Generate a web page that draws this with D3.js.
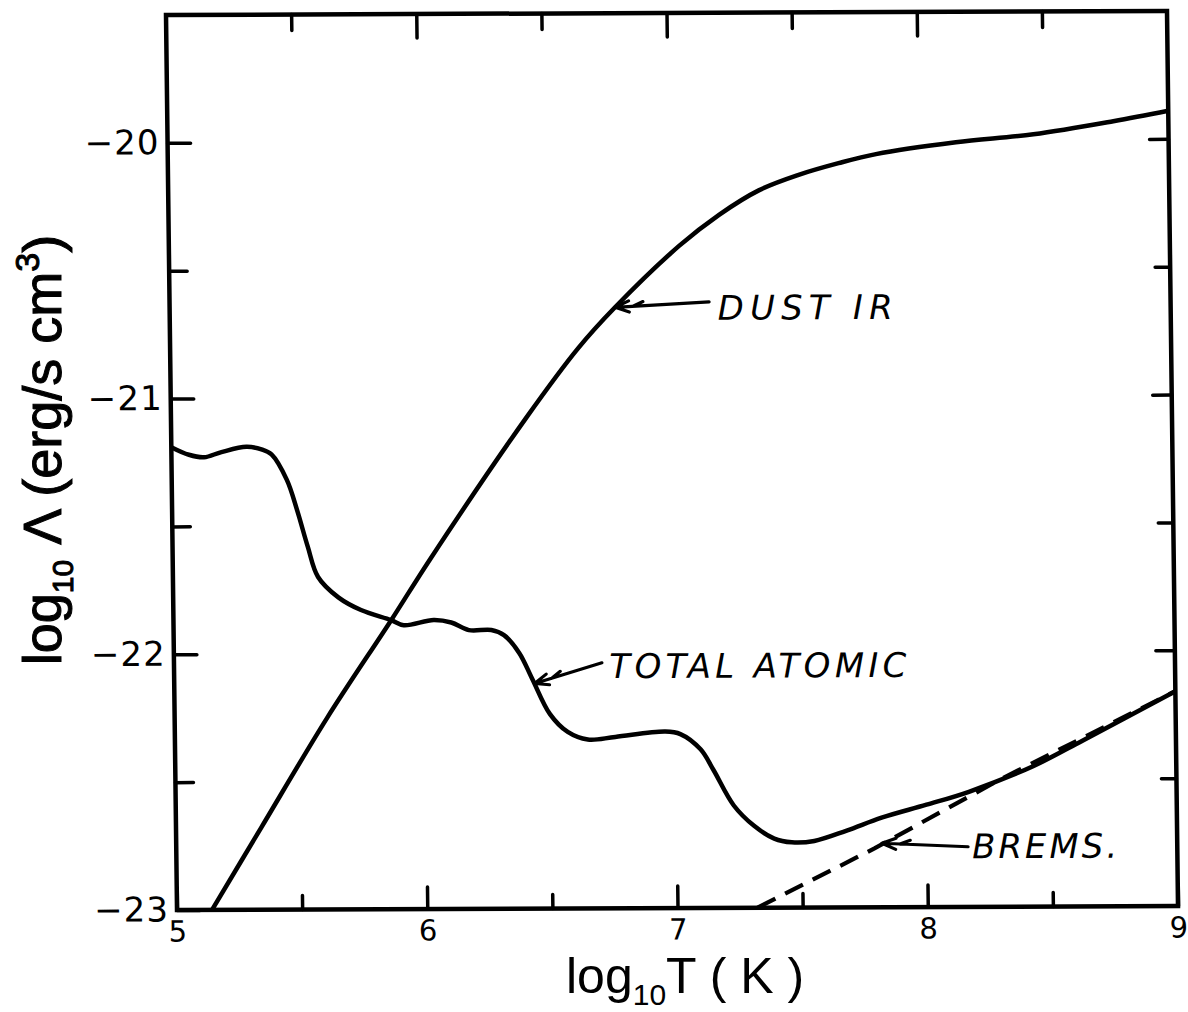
<!DOCTYPE html>
<html><head><meta charset="utf-8">
<script src="https://cdn.jsdelivr.net/npm/d3@7"></script>
<style>html,body{margin:0;padding:0;background:#fff}</style>
</head><body>
<svg id="chart" width="1188" height="1012"></svg>
<script>
// Cooling rates: log10 Λ (erg/s cm^3) against log10 T (K)
const atomicLogT = [5.0,5.07,5.13,5.2,5.3,5.36,5.40,5.46,5.50,5.54,5.58,5.66,5.75,5.87,5.92,6.04,6.11,6.18,6.27,6.32,6.38,6.43,6.50,6.57,6.65,6.76,6.96,7.02,7.10,7.15,7.23,7.31,7.39,7.46,7.55,7.68,7.82,8.0,8.17,8.43,8.63,9.0];
const atomicLogL = [-21.19,-21.22,-21.23,-21.21,-21.19,-21.20,-21.22,-21.32,-21.44,-21.58,-21.70,-21.78,-21.83,-21.87,-21.89,-21.87,-21.88,-21.91,-21.91,-21.93,-22.0,-22.1,-22.24,-22.31,-22.34,-22.33,-22.31,-22.32,-22.38,-22.46,-22.60,-22.68,-22.73,-22.745,-22.74,-22.70,-22.65,-22.60,-22.55,-22.45,-22.35,-22.16];

const dustLogT = [5.14,5.34,5.61,5.87,6.03,6.42,6.63,6.78,7.04,7.20,7.36,7.52,7.68,7.83,8.15,8.46,8.78,9.0];
const dustLogL = [-23.0,-22.68,-22.25,-21.87,-21.63,-21.08,-20.81,-20.65,-20.41,-20.29,-20.195,-20.135,-20.09,-20.055,-20.01,-19.98,-19.93,-19.89];

const bremsLogT = [7.32,7.79,8.30,9.0];
const bremsLogL = [-23.0,-22.77,-22.5,-22.16];

const xMajorTicks = [5,6,7,8,9];
const xMinorTicks = [5.5,6.5,7.5,8.5];
const yMajorTicks = [-20,-21,-22,-23];
const yMinorTicks = [-20.5,-21.5,-22.5];

// curve labels: text, arrow tip (on curve), arrow tail, text start
const labelText  = ["DUST IR","TOTAL ATOMIC","BREMS."];
const labelTip   = [[6.78,-20.65],[6.44,-22.12],[7.82,-22.75]];
const labelTail  = [[7.156,-20.63],[6.71,-22.04],[8.164,-22.765]];
const labelStart = [[7.19,-20.70],[6.74,-22.10],[8.18,-22.81]];
const labelWidth = [175,297,145];

const W = 1001, H = 895;
const svg = d3.select("#chart");
const g = svg.append("g")
  .attr("transform","translate(166,15) matrix(1,-0.004,0.0123,1,0,0)");

const x = d3.scaleLinear().domain([5,9]).range([0,W]);
const y = d3.scaleLinear().domain([-23,-19.5]).range([H,0]);

const FONT = "'DejaVu Sans', 'Liberation Sans', sans-serif";
const TITLE_FONT = "'Liberation Sans', Arial, sans-serif";

function styleAxis(sel){
  sel.select(".domain").remove();
  sel.selectAll(".tick line").attr("stroke","#000").attr("stroke-width",3.5).attr("stroke-linecap","round");
  sel.selectAll(".tick text").attr("fill","#000").attr("font-family",FONT);
}

// bottom
g.append("g").attr("transform",`translate(0,${H})`)
  .call(d3.axisBottom(x).tickValues(xMajorTicks).tickSizeInner(-22).tickSizeOuter(0).tickPadding(11).tickFormat(d3.format("d")))
  .call(styleAxis)
  .call(s=>s.selectAll(".tick text").attr("font-size",29));
g.append("g").attr("transform",`translate(0,${H})`)
  .call(d3.axisBottom(x).tickValues(xMinorTicks).tickSizeInner(-14).tickSizeOuter(0).tickFormat(""))
  .call(styleAxis);
// top
g.append("g")
  .call(d3.axisTop(x).tickValues([6,7,8]).tickSizeInner(-24).tickSizeOuter(0).tickFormat(""))
  .call(styleAxis);
g.append("g")
  .call(d3.axisTop(x).tickValues(xMinorTicks).tickSizeInner(-16).tickSizeOuter(0).tickFormat(""))
  .call(styleAxis);
// left
g.append("g")
  .call(d3.axisLeft(y).tickValues(yMajorTicks).tickSizeInner(-23).tickSizeOuter(0).tickPadding(9).tickFormat(d3.format("d")))
  .call(styleAxis)
  .call(s=>s.selectAll(".tick text").attr("font-size",34).attr("textLength",74).attr("lengthAdjust","spacing"));
g.append("g")
  .call(d3.axisLeft(y).tickValues(yMinorTicks).tickSizeInner(-18).tickSizeOuter(0).tickFormat(""))
  .call(styleAxis);
// right
g.append("g").attr("transform",`translate(${W},0)`)
  .call(d3.axisRight(y).tickValues([-20,-21,-22]).tickSizeInner(-19).tickSizeOuter(0).tickFormat(""))
  .call(styleAxis);
g.append("g").attr("transform",`translate(${W},0)`)
  .call(d3.axisRight(y).tickValues(yMinorTicks).tickSizeInner(-15).tickSizeOuter(0).tickFormat(""))
  .call(styleAxis);

// frame
g.append("rect").attr("width",W).attr("height",H)
  .attr("fill","none").attr("stroke","#000").attr("stroke-width",4.5);

// curves
const smooth = d3.line().x(d=>x(d[0])).y(d=>y(d[1])).curve(d3.curveCatmullRom.alpha(0.5));
const straight = d3.line().x(d=>x(d[0])).y(d=>y(d[1]));

g.append("path").datum(d3.zip(bremsLogT,bremsLogL)).attr("d",straight)
  .attr("fill","none").attr("stroke","#000").attr("stroke-width",4.2)
  .attr("stroke-dasharray","20,11");
g.append("path").datum(d3.zip(dustLogT,dustLogL)).attr("d",smooth)
  .attr("fill","none").attr("stroke","#000").attr("stroke-width",4.5).attr("stroke-linejoin","round");
g.append("path").datum(d3.zip(atomicLogT,atomicLogL)).attr("d",smooth)
  .attr("fill","none").attr("stroke","#000").attr("stroke-width",4.5).attr("stroke-linejoin","round");

// annotation arrows and labels
labelText.forEach((t,i)=>{
  const tx = x(labelTip[i][0]), ty = y(labelTip[i][1]);
  const sx = x(labelTail[i][0]), sy = y(labelTail[i][1]);
  const ang = Math.atan2(sy-ty, sx-tx);
  const hl = 15, ha = 0.38;
  const p = d3.path();
  p.moveTo(sx,sy); p.lineTo(tx,ty);
  p.moveTo(tx+hl*Math.cos(ang-ha), ty+hl*Math.sin(ang-ha)); p.lineTo(tx,ty);
  p.lineTo(tx+hl*Math.cos(ang+ha), ty+hl*Math.sin(ang+ha));
  // second barb behind the head
  const bx = tx+18*Math.cos(ang), by = ty+18*Math.sin(ang);
  p.moveTo(bx+11*Math.cos(ang-ha), by+11*Math.sin(ang-ha)); p.lineTo(bx,by);
  g.append("path").attr("d",p.toString()).attr("fill","none").attr("stroke","#000")
    .attr("stroke-width",3.2).attr("stroke-linecap","round").attr("stroke-linejoin","round");
  g.append("text").attr("x",x(labelStart[i][0])).attr("y",y(labelStart[i][1]))
    .attr("font-family",FONT).attr("font-style","italic").attr("font-size",34)
    .attr("textLength",labelWidth[i]).attr("lengthAdjust","spacing")
    .text(t);
});

// axis titles
const xt = svg.append("text").attr("x",566).attr("y",993)
  .attr("font-family",TITLE_FONT).attr("font-size",50).attr("fill","#000");
xt.append("tspan").text("log");
xt.append("tspan").attr("font-size",30).attr("dy",12).text("10");
xt.append("tspan").attr("dy",-12).text("T ( K )");

const yt = svg.append("text").attr("transform","translate(61,450) rotate(-90)")
  .attr("text-anchor","middle").attr("font-family",TITLE_FONT).attr("font-size",54).attr("fill","#000")
  .attr("stroke","#000").attr("stroke-width",1);
yt.append("tspan").text("log");
yt.append("tspan").attr("font-size",30).attr("dy",12).text("10");
yt.append("tspan").attr("dy",-12).text(" Λ (erg/s cm");
yt.append("tspan").attr("font-size",34).attr("dy",-22).text("3");
yt.append("tspan").attr("dy",22).text(")");
</script>
</body></html>
